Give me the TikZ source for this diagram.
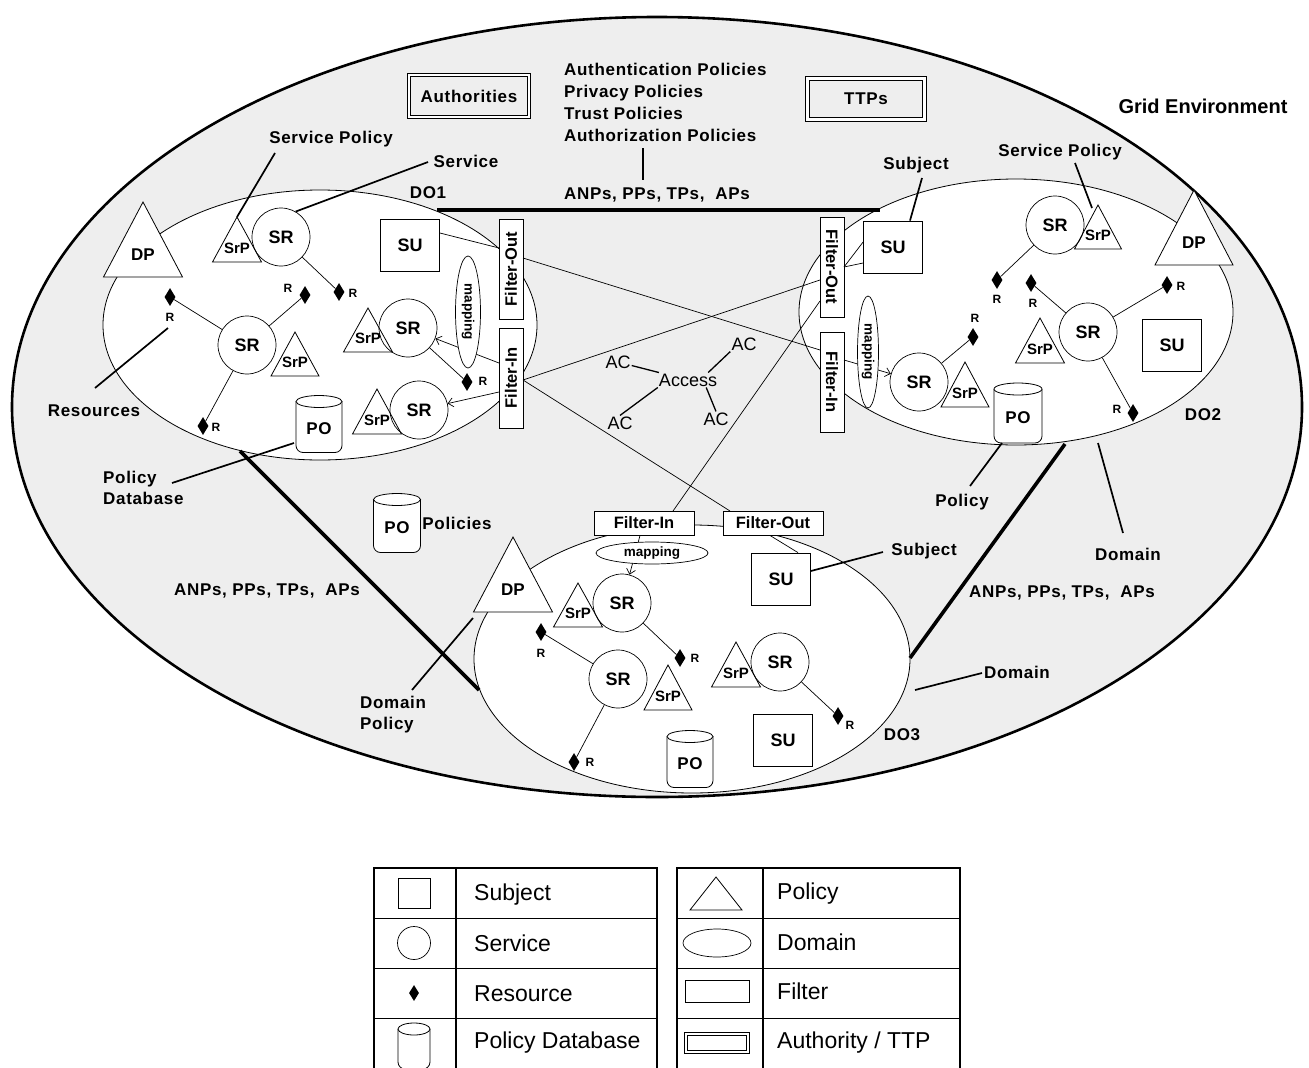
\documentclass[tikz,border=0pt]{standalone}
\usepackage{fontspec}
\setmainfont{Liberation Sans}
\newfontfamily\lblfont[LetterSpace=4]{Liberation Sans}
\usetikzlibrary{arrows.meta,shapes.geometric}
\definecolor{envgray}{gray}{0.935}
\newcommand\mytri[7]{%
  \coordinate (#1a) at (#2,#3);
  \draw[tri] (#2,#3) -- ++(#4/2,#5) -- ++(-#4,0) -- cycle;
  \node[#7] (#1) at (#2,#3+0.7*#5) {#6};}
\newcommand\mycyl[6]{%
  \draw[tri, rounded corners=7pt] (#2-#4/2,#3-#5/2+6) -- (#2-#4/2,#3+#5/2) -- (#2+#4/2,#3+#5/2) -- (#2+#4/2,#3-#5/2+6);
  \draw[tri] (#2,#3-#5/2+6) ellipse [x radius=#4/2, y radius=6];
  \node[lbl] (#1) at (#2,#3+5) {#6};}
\begin{document}
\begin{tikzpicture}[x=1pt,y=-1pt,
  lbl/.style={inner sep=0pt, font=\lblfont\bfseries\fontsize{17}{20}\selectfont},
  rlbl/.style={inner sep=0pt, font=\bfseries\fontsize{12}{12}\selectfont},
  srnode/.style={circle, draw, line width=0.7pt, minimum size=58pt, inner sep=0pt, font=\bfseries\fontsize{18}{18}\selectfont},
  sunode/.style={rectangle, draw, fill=white, line width=0.8pt, minimum width=59pt, minimum height=52pt, inner sep=0pt, font=\bfseries\fontsize{18}{18}\selectfont},
  filt/.style={rectangle, draw, fill=white, line width=0.9pt, minimum width=100pt, minimum height=24pt, inner sep=0pt, font=\bfseries\fontsize{16.5}{17}\selectfont},
  mapnode/.style={ellipse, draw, fill=white, line width=0.7pt, minimum width=112pt, minimum height=22pt, inner sep=0pt, font=\bfseries\fontsize{13.5}{14}\selectfont},
  resnode/.style={diamond, fill=black, minimum width=11pt, minimum height=18pt, inner sep=0pt},
  tri/.style={draw, fill=white, line width=0.8pt},
  dpt/.style={inner sep=0pt, font=\bfseries\fontsize{17}{17}\selectfont},
  srpt/.style={inner sep=0pt, font=\bfseries\fontsize{15}{15}\selectfont},
  conn/.style={line width=0.7pt},
  leader/.style={line width=1.7pt},
  thickln/.style={line width=3.6pt},
  arr/.style={-{Straight Barb[length=5pt,width=9pt]}},
  envline/.style={draw, line width=2.6pt, fill=envgray},
  domline/.style={draw, line width=0.8pt, fill=white},
  authbox/.style={draw, double, double distance=2.5pt, line width=0.8pt, minimum width=120pt, minimum height=42pt, inner sep=0pt, font=\lblfont\bfseries\fontsize{17}{17}\selectfont},
  acl/.style={inner sep=1pt, font=\fontsize{18}{18}\selectfont},
  accln/.style={line width=1.3pt},
  legbox/.style={draw, line width=1.8pt},
  legrow/.style={line width=1pt},
  legtxt/.style={inner sep=0pt, anchor=west, font=\fontsize{23}{23}\selectfont}
]
\useasboundingbox[fill=white] (0,0) rectangle (1309,1068);

% ---------- grid environment ----------
\path[envline] (657,407) ellipse [x radius=645, y radius=390];
\node[inner sep=0pt, font=\bfseries\fontsize{20}{20}\selectfont] (gridlbl) at (1203,106) {Grid Environment};

\node[authbox] (auth) at (469,96) {Authorities};
\node[authbox, minimum width=117pt, minimum height=41pt] (ttp) at (866,99) {TTPs};
\node[lbl, align=left, anchor=west, font=\lblfont\bfseries\fontsize{17}{22}\selectfont] (pols) at (564,102)
  {Authentication Policies\\Privacy Policies\\Trust Policies\\Authorization Policies};
\coordinate (vtop) at (643,148);
\coordinate (vbot) at (643,180);
\draw[leader] (vtop) -- (vbot);
\node[lbl] (anp1) at (657,195) {ANPs, PPs, TPs,~ APs};

% ---------- domains ----------
\path[domline] (320,325) ellipse [x radius=217, y radius=135];
\path[domline] (1016,312) ellipse [x radius=217, y radius=133];
\path[domline] (692,659) ellipse [x radius=218, y radius=134];

% thick links between domains
\coordinate (t1a) at (437,210); \coordinate (t1b) at (880,210);
\coordinate (t2a) at (240,451); \coordinate (t2b) at (479,690);
\coordinate (t3a) at (1065,444); \coordinate (t3b) at (910,658);
\draw[thickln] (t1a) -- (t1b);
\draw[thickln] (t2a) -- (t2b);
\draw[thickln] (t3a) -- (t3b);

% ---------- filters ----------
\node[filt, rotate=90] (fo1) at (511,269) {Filter-Out};
\node[filt, rotate=90] (fi1) at (511,378) {Filter-In};
\node[filt, rotate=-90] (fo2) at (832,267) {Filter-Out};
\node[filt, rotate=-90] (fi2) at (832,382) {Filter-In};
\node[filt] (fi3) at (644,523) {Filter-In};
\node[filt] (fo3) at (773,523) {Filter-Out};

% cross-domain connectors
\draw[conn] ([xshift=12pt,yshift=11pt]fo1.center) -- ([xshift=-12pt,yshift=32pt]fi2.center);
\draw[conn] ([xshift=12pt,yshift=-2pt]fi1.center) -- ([xshift=-12pt,yshift=-13pt]fo2.center);
\draw[conn] ([xshift=12pt,yshift=-2pt]fi1.center) -- ([xshift=-43pt,yshift=12pt]fo3.center);
\draw[conn] ([xshift=29pt,yshift=12pt]fi3.center) -- ([xshift=-12pt,yshift=-34pt]fo2.center);

% ---------- DO1 ----------
\mytri{dp1}{143}{202}{79}{75}{DP}{dpt}
\mytri{srpA}{237}{217}{49}{45}{SrP}{srpt}
\mytri{srpB}{295}{332}{48}{44}{SrP}{srpt}
\mytri{srpC}{368}{308}{49}{44}{SrP}{srpt}
\mytri{srpD}{377}{389}{49}{45}{SrP}{srpt}
\node[srnode] (srA) at (281,237) {SR};
\node[srnode] (srB) at (247,345) {SR};
\node[srnode] (srC) at (408,328) {SR};
\node[srnode] (srD) at (419,410) {SR};
\node[sunode] (su1) at (410,245) {SU};
\mycyl{po1}{319}{424}{46}{57}{PO}
\node[resnode] (r1) at (170,297) {}; \node[rlbl] (r1l) at (170,317) {R};
\node[resnode] (r2) at (305,295) {}; \node[rlbl] (r2l) at (288,288) {R};
\node[resnode] (r3) at (339,292) {}; \node[rlbl] (r3l) at (353,293) {R};
\node[resnode] (r4) at (467,382) {}; \node[rlbl] (r4l) at (483,381) {R};
\node[resnode] (r5) at (203,426) {}; \node[rlbl] (r5l) at (216,427) {R};
\draw[conn] (srA) -- (r3);
\draw[conn] (srB) -- (r1);
\draw[conn] (srB) -- (r2);
\draw[conn] (srB) -- (r5);
\draw[conn] (srC) -- (r4);
\draw[conn] ([yshift=12pt]su1.east) -- ([xshift=-12pt,yshift=21pt]fo1.center);
\draw[conn,arr] ([xshift=-12pt,yshift=15pt]fi1.center) -- (srC);
\draw[conn,arr] ([xshift=-12pt,yshift=-14pt]fi1.center) -- (srD);
\node[mapnode, rotate=-90, minimum height=25pt] (map1) at (468,312) {mapping};

% ---------- DO2 ----------
\mytri{dp2}{1194}{190}{78}{75}{DP}{dpt}
\mytri{srpE}{1098}{205}{47}{44}{SrP}{srpt}
\mytri{srpF}{1040}{318}{49}{45}{SrP}{srpt}
\mytri{srpG}{965}{362}{48}{45}{SrP}{srpt}
\node[srnode] (srE) at (1055,225) {SR};
\node[srnode] (srF) at (1088,332) {SR};
\node[srnode] (srG) at (919,382) {SR};
\node[sunode] (su2) at (893,247) {SU};
\node[sunode] (su2b) at (1172,345) {SU};
\mycyl{po2}{1018}{413}{48}{60}{PO}
\node[resnode] (r6) at (997,280) {}; \node[rlbl] (r6l) at (997,299) {R};
\node[resnode] (r7) at (1031,283) {}; \node[rlbl] (r7l) at (1033,303) {R};
\node[resnode] (r8) at (1167,285) {}; \node[rlbl] (r8l) at (1181,286) {R};
\node[resnode] (r9) at (973,337) {}; \node[rlbl] (r9l) at (975,318) {R};
\node[resnode] (r10) at (1133,413) {}; \node[rlbl] (r10l) at (1117,409) {R};
\draw[conn] (srE) -- (r6);
\draw[conn] (srF) -- (r7);
\draw[conn] (srF) -- (r8);
\draw[conn] (srF) -- (r10);
\draw[conn] (srG) -- (r9);
\draw[conn] ([xshift=12pt]fo2.center) -- ([yshift=5pt]su2.west);
\draw[conn] ([xshift=12pt]fo2.center) -- ([yshift=-16pt]su2.west);
\draw[conn,arr] ([xshift=12pt,yshift=22pt]fi2.center) -- (srG);
\node[mapnode, rotate=-90, minimum height=21pt] (map2) at (868,352) {mapping};

% ---------- DO3 ----------
\mytri{dp3}{513}{537}{79}{75}{DP}{dpt}
\mytri{srpH}{578}{583}{49}{44}{SrP}{srpt}
\mytri{srpI}{668}{665}{48}{45}{SrP}{srpt}
\mytri{srpJ}{736}{642}{49}{45}{SrP}{srpt}
\node[srnode] (srH) at (622,603) {SR};
\node[srnode] (srI) at (618,679) {SR};
\node[srnode] (srJ) at (780,662) {SR};
\node[sunode] (su3) at (781,579) {SU};
\node[sunode] (su3b) at (783,740) {SU};
\mycyl{po3}{690}{759}{46}{57}{PO}
\node[resnode] (r11) at (541,632) {}; \node[rlbl] (r11l) at (541,653) {R};
\node[resnode] (r12) at (680,658) {}; \node[rlbl] (r12l) at (695,658) {R};
\node[resnode] (r13) at (574,762) {}; \node[rlbl] (r13l) at (590,762) {R};
\node[resnode] (r14) at (838,716) {}; \node[rlbl] (r14l) at (850,725) {R};
\draw[conn] (srH) -- (r12);
\draw[conn] (srI) -- (r11);
\draw[conn] (srI) -- (r13);
\draw[conn] (srJ) -- (r14);
\draw[conn,arr] ([xshift=-4pt]fi3.south) -- (srH);
\draw[conn] ([xshift=-3pt]fo3.south) -- ([xshift=17pt]su3.north);
\node[mapnode] (map3) at (652,553) {mapping};

% ---------- free policy database ----------
\mycyl{po4}{397}{523}{47}{59}{PO}
\node[lbl] (polsL) at (457,523) {Policies};

% ---------- labels and leaders ----------
\node[lbl] (spL1) at (331,139) {Service Policy};
\coordinate (l1) at (275,153);
\draw[leader] (l1) -- (srpAa);
\node[lbl] (svL) at (466,161) {Service};
\coordinate (l2) at (428,162);
\draw[leader] (l2) -- (srA.60);
\node[lbl] (do1L) at (428,193) {DO1};
\node[lbl] (resL) at (94,411) {Resources};
\coordinate (l3) at (95,388); \coordinate (l3e) at (168,328);
\draw[leader] (l3) -- (l3e);
\node[lbl, align=left, anchor=west, font=\lblfont\bfseries\fontsize{17}{21}\selectfont] (pdbL) at (103,488) {Policy\\Database};
\coordinate (l4) at (172,483); \coordinate (l4e) at (294,443);
\draw[leader] (l4) -- (l4e);

\node[lbl] (subL2) at (916,165) {Subject};
\coordinate (l5) at (922,178);
\draw[leader] (l5) -- ([xshift=17pt]su2.north);
\node[lbl] (spL2) at (1060,152) {Service Policy};
\coordinate (l6) at (1075,163); \coordinate (l6e) at (1092,208);
\draw[leader] (l6) -- (l6e);
\node[lbl] (do2L) at (1203,415) {DO2};
\node[lbl] (polL) at (962,502) {Policy};
\coordinate (l7) at (970,486); \coordinate (l7e) at (1002,443);
\draw[leader] (l7) -- (l7e);
\node[lbl] (domL2) at (1128,554) {Domain};
\coordinate (l8) at (1123,533); \coordinate (l8e) at (1098,443);
\draw[leader] (l8) -- (l8e);
\node[lbl] (subL3) at (924,551) {Subject};
\coordinate (l9) at (883,552);
\draw[leader] (l9) -- ([yshift=8pt]su3.east);
\node[lbl] (anp2) at (1062,593) {ANPs, PPs, TPs,~ APs};
\node[lbl] (domL3) at (1017,672) {Domain};
\coordinate (l10) at (982,673); \coordinate (l10e) at (915,690);
\draw[leader] (l10) -- (l10e);
\node[lbl] (do3L) at (902,735) {DO3};
\node[lbl] (anp3) at (267,591) {ANPs, PPs, TPs,~ APs};
\node[lbl, align=left, anchor=west, font=\lblfont\bfseries\fontsize{17}{21}\selectfont] (dpL) at (360,715) {Domain\\Policy};
\coordinate (l11) at (412,690); \coordinate (l11e) at (473,618);
\draw[leader] (l11) -- (l11e);

% ---------- access ----------
\node[acl] (acc) at (688,380) {Access};
\node[acl] (ac1) at (618,362) {AC};
\node[acl] (ac2) at (744,344) {AC};
\node[acl] (ac3) at (620,423) {AC};
\node[acl] (ac4) at (716,419) {AC};
\draw[accln] (acc) -- (ac1);
\draw[accln] ([xshift=-10pt]acc.north east) -- (ac2.south west);
\draw[accln] (acc.south west) -- (ac3.north);
\draw[accln] ([xshift=-12pt]acc.south east) -- (ac4.north);

% ---------- legend ----------
\draw[legbox] (374,868) rectangle (657,1085);
\draw[legbox] (456,868) -- (456,1085);
\draw[legrow] (374,918) -- (657,918);
\draw[legrow] (374,968) -- (657,968);
\draw[legrow] (374,1018) -- (657,1018);
\draw[legbox] (677,868) rectangle (960,1085);
\draw[legbox] (763,868) -- (763,1085);
\draw[legrow] (677,918) -- (960,918);
\draw[legrow] (677,968) -- (960,968);
\draw[legrow] (677,1018) -- (960,1018);

\node[rectangle, draw, line width=0.8pt, minimum width=32pt, minimum height=30pt] (lgSq) at (414,893) {};
\node[circle, draw, line width=0.7pt, minimum size=33pt, inner sep=0pt] (lgCi) at (414,943) {};
\node[resnode, minimum width=10pt, minimum height=16pt] (lgRe) at (414,993) {};
\mycyl{lgPo}{414}{1046}{32}{46}{}
\mytri{lgTr}{716}{877}{52}{33}{}{dpt}
\node[ellipse, draw, line width=0.7pt, minimum width=68pt, minimum height=28pt, inner sep=0pt] (lgEl) at (717,943) {};
\node[rectangle, draw, line width=0.8pt, minimum width=64pt, minimum height=22pt] (lgFi) at (717,991) {};
\node[authbox, minimum width=62pt, minimum height=18pt] (lgAu) at (717,1043) {};

\node[legtxt] (lt1) at (474,895) {Subject};
\node[legtxt] (lt2) at (474,943) {Service};
\node[legtxt] (lt3) at (474,994) {Resource};
\node[legtxt] (lt4) at (474,1043) {Policy Database};
\node[legtxt] (lt5) at (777,894) {Policy};
\node[legtxt] (lt6) at (777,942) {Domain};
\node[legtxt] (lt7) at (777,991) {Filter};
\node[legtxt] (lt8) at (777,1043) {Authority / TTP};
\end{tikzpicture}
\end{document}
